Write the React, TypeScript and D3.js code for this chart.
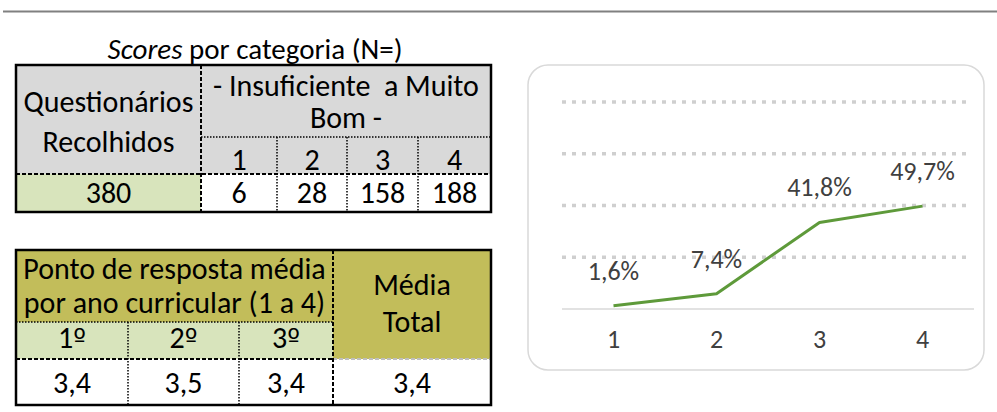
import React from "react";
import * as d3 from "d3";

const scoreCategories = ["1", "2", "3", "4"];
const scoreCounts = [6, 28, 158, 188];
const totalCollected = 380;
const yearLabels = ["1º", "2º", "3º"];
const yearMeans = ["3,4", "3,5", "3,4"];
const totalMean = "3,4";
const chartCategories = ["1", "2", "3", "4"];
const chartValues = [0.016, 0.074, 0.418, 0.497];
const chartLabels = ["1,6%", "7,4%", "41,8%", "49,7%"];
const gridTicks = [0.25, 0.5, 0.75, 1.0];

const FONT = "Carlito, Calibri, Lato, 'Liberation Sans', sans-serif";
const GRAY = "#d9d9d9";
const LIGHT_GREEN = "#d8e4bc";
const OLIVE = "#c2bd5a";
const DASH = "4,2";
const DOT = "1.5,1.5";

export default function App() {
  const fs = 30;
  // Table 1 geometry
  const t1x = [16, 201, 277, 347, 418, 491];
  const t1y = [65, 137, 174, 212];
  // Table 2 geometry
  const t2x = [16, 128, 239, 333, 491];
  const t2y = [250, 322, 359, 405];

  const x = d3.scaleBand<string>().domain(chartCategories).range([562, 974]);
  const y = d3.scaleLinear().domain([0, 1]).range([309, 102]);
  const line = d3
    .line<number>()
    .x((_, i) => (x(chartCategories[i]) as number) + x.bandwidth() / 2)
    .y((d) => y(d));

  const mid = (a: number, b: number) => (a + b) / 2;

  const ordinal = (l: string) => {
    const num = l.replace("º", "");
    return (
      <>
        {num}
        <tspan fontFamily="'DejaVu Sans', sans-serif" fontSize={27}>º</tspan>
      </>
    );
  };

  return (
    <svg
      width={997}
      height={412}
      style={{ position: "absolute", left: 0, top: 0, background: "#fff" }}
      fontFamily={FONT}
    >
      {/* top rule */}
      <line x1={3} x2={997} y1={11.5} y2={11.5} stroke="#808080" strokeWidth={2} />

      {/* Title */}
      <text x={255} y={59} textAnchor="middle" fontSize={29} fill="#000">
        <tspan fontStyle="italic">Scores</tspan> por categoria (N=)
      </text>

      {/* Table 1 */}
      <rect x={t1x[0]} y={t1y[0]} width={t1x[5] - t1x[0]} height={t1y[2] - t1y[0]} fill={GRAY} />
      <rect x={t1x[0]} y={t1y[2]} width={t1x[1] - t1x[0]} height={t1y[3] - t1y[2]} fill={LIGHT_GREEN} />
      <rect x={t1x[1]} y={t1y[2]} width={t1x[5] - t1x[1]} height={t1y[3] - t1y[2]} fill="#fff" />
      <line x1={t1x[1]} x2={t1x[5]} y1={t1y[1]} y2={t1y[1]} stroke="#000" strokeWidth={1.5} strokeDasharray={DOT} />
      {[2, 3, 4].map((i) => (
        <line key={i} x1={t1x[i]} x2={t1x[i]} y1={t1y[1]} y2={t1y[3]} stroke="#000" strokeWidth={1.5} strokeDasharray={DOT} />
      ))}
      <line x1={t1x[0]} x2={t1x[5]} y1={t1y[2]} y2={t1y[2]} stroke="#000" strokeWidth={2} strokeDasharray={DASH} />
      <line x1={t1x[1]} x2={t1x[1]} y1={t1y[0]} y2={t1y[3]} stroke="#000" strokeWidth={2} strokeDasharray={DASH} />
      <rect x={t1x[0]} y={t1y[0]} width={t1x[5] - t1x[0]} height={t1y[3] - t1y[0]} fill="none" stroke="#000" strokeWidth={2.5} />

      <g fontSize={fs} fill="#000" textAnchor="middle">
        <text x={mid(t1x[0], t1x[1])} y={112}>Questionários</text>
        <text x={mid(t1x[0], t1x[1])} y={152}>Recolhidos</text>
        <text x={mid(t1x[1], t1x[5])} y={96} style={{ whiteSpace: "pre" }}>{"- Insuficiente  a Muito"}</text>
        <text x={mid(t1x[1], t1x[5])} y={128}>Bom -</text>
        {scoreCategories.map((c, i) => (
          <text key={c} x={mid(t1x[i + 1], t1x[i + 2])} y={170}>{c}</text>
        ))}
        <text x={mid(t1x[0], t1x[1])} y={203}>{totalCollected}</text>
        {scoreCounts.map((v, i) => (
          <text key={i} x={mid(t1x[i + 1], t1x[i + 2])} y={203}>{v}</text>
        ))}
      </g>

      {/* Table 2 */}
      <rect x={t2x[0]} y={t2y[0]} width={t2x[4] - t2x[0]} height={t2y[2] - t2y[0]} fill={OLIVE} />
      <rect x={t2x[0]} y={t2y[1]} width={t2x[3] - t2x[0]} height={t2y[2] - t2y[1]} fill={LIGHT_GREEN} />
      <rect x={t2x[0]} y={t2y[2]} width={t2x[4] - t2x[0]} height={t2y[3] - t2y[2]} fill="#fff" />
      <line x1={t2x[0]} x2={t2x[3]} y1={t2y[1]} y2={t2y[1]} stroke="#000" strokeWidth={1.5} strokeDasharray={DOT} />
      {[1, 2].map((i) => (
        <line key={i} x1={t2x[i]} x2={t2x[i]} y1={t2y[1]} y2={t2y[3]} stroke="#000" strokeWidth={1.5} strokeDasharray={DOT} />
      ))}
      <line x1={t2x[0]} x2={t2x[3]} y1={t2y[2]} y2={t2y[2]} stroke="#000" strokeWidth={2} strokeDasharray={DASH} />
      <line x1={t2x[3]} x2={t2x[4]} y1={t2y[2]} y2={t2y[2]} stroke="#bfbfbf" strokeWidth={2} strokeDasharray={DASH} />
      <line x1={t2x[3]} x2={t2x[3]} y1={t2y[0]} y2={t2y[3]} stroke="#000" strokeWidth={2} strokeDasharray={DASH} />
      <rect x={t2x[0]} y={t2y[0]} width={t2x[4] - t2x[0]} height={t2y[3] - t2y[0]} fill="none" stroke="#000" strokeWidth={2.5} />

      <g fontSize={fs} fill="#000" textAnchor="middle">
        <text x={mid(t2x[0], t2x[3])} y={279}>Ponto de resposta média</text>
        <text x={mid(t2x[0], t2x[3])} y={313}>por ano curricular (1 a 4)</text>
        <text x={mid(t2x[3], t2x[4])} y={295}>Média</text>
        <text x={mid(t2x[3], t2x[4])} y={332}>Total</text>
        {yearLabels.map((l, i) => (
          <text key={l} x={mid(t2x[i], t2x[i + 1])} y={348}>{ordinal(l)}</text>
        ))}
        {yearMeans.map((v, i) => (
          <text key={i} x={mid(t2x[i], t2x[i + 1])} y={393}>{v}</text>
        ))}
        <text x={mid(t2x[3], t2x[4])} y={393}>{totalMean}</text>
      </g>

      {/* Chart */}
      <rect x={528} y={65} width={456} height={305} rx={20} ry={20} fill="#fff" stroke={GRAY} strokeWidth={1.5} />
      {gridTicks.map((t) => (
        <line key={t} x1={562} x2={970} y1={y(t)} y2={y(t)} stroke="#cfcfcf" strokeWidth={3.5} strokeDasharray="4,6" />
      ))}
      <line x1={562} x2={974} y1={y(0)} y2={y(0)} stroke={GRAY} strokeWidth={1.5} />
      <path d={line(chartValues) || ""} fill="none" stroke="#5e9a3a" strokeWidth={3} strokeLinejoin="round" />
      <g fontSize={26} fill="#404040" textAnchor="middle">
        {chartLabels.map((l, i) => (
          <text key={l} x={(x(chartCategories[i]) as number) + x.bandwidth() / 2} y={y(chartValues[i]) - 26}>{l}</text>
        ))}
        {chartCategories.map((c) => (
          <text key={c} x={(x(c) as number) + x.bandwidth() / 2} y={348}>{c}</text>
        ))}
      </g>
    </svg>
  );
}
